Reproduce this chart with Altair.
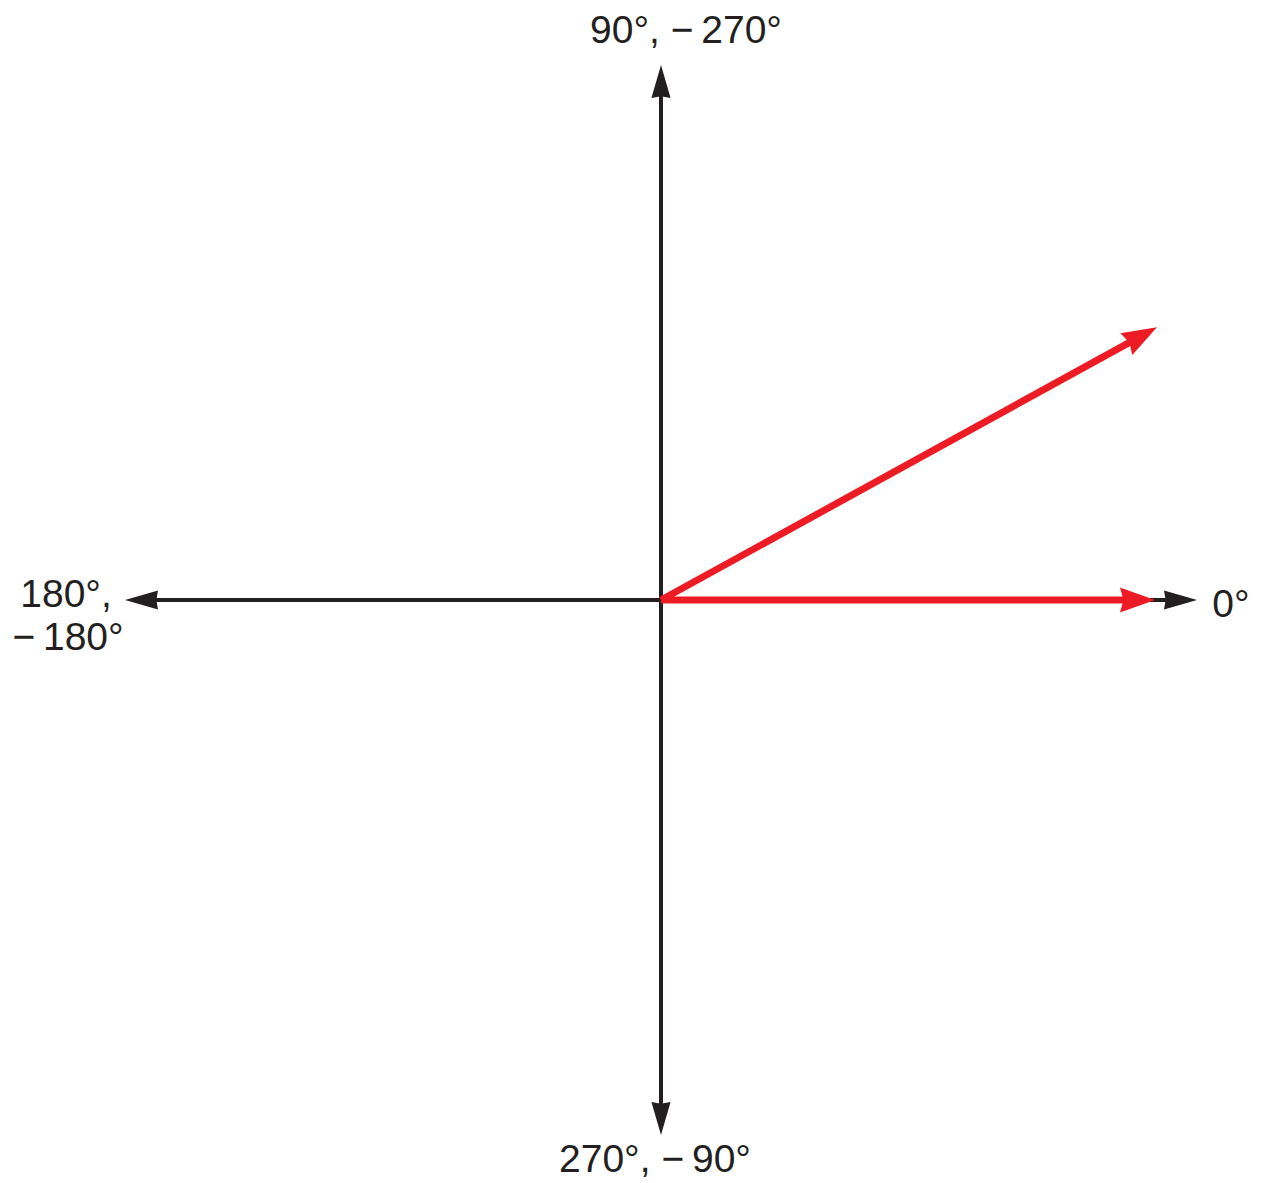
import math
import altair as alt
import pandas as pd

# ---- data (units: 1 unit ~ 100 px, origin at the axes crossing) ----
axis_end_x = [5.36, -5.36, 0.0, 0.0]
axis_end_y = [0.0, 0.0, 5.35, -5.35]
axis_head_angle = [90, 270, 0, 180]

vector_magnitude = [4.94, 5.66]
vector_angle_deg = [0.0, 28.8]

label_text = ["0°", "90°, −\u2009270°", "180°,", "−\u2009180°", "270°, −\u200990°"]
label_x = [5.70, 0.25, -5.95, -5.93, -0.06]
label_y = [-0.17, 5.57, -0.07, -0.50, -5.72]

BLACK = "#231f20"
RED = "#ed1c24"

# ---- tables ----
axes_df = pd.DataFrame({
    "x0": [0.0] * 4, "y0": [0.0] * 4,
    "tx": axis_end_x, "ty": axis_end_y,
    "ang": axis_head_angle,
})
axes_df["x1"] = [x * (1 - 0.15 / 5.36) for x in axis_end_x]
axes_df["y1"] = [y * (1 - 0.15 / 5.35) for y in axis_end_y]

vx = [m * math.cos(math.radians(a)) for m, a in zip(vector_magnitude, vector_angle_deg)]
vy = [m * math.sin(math.radians(a)) for m, a in zip(vector_magnitude, vector_angle_deg)]
vec_df = pd.DataFrame({
    "x0": [0.0, 0.0], "y0": [0.0, 0.0],
    "tx": vx, "ty": vy,
    "x1": [(m - 0.25) * math.cos(math.radians(a)) for m, a in zip(vector_magnitude, vector_angle_deg)],
    "y1": [(m - 0.25) * math.sin(math.radians(a)) for m, a in zip(vector_magnitude, vector_angle_deg)],
    "ang": [90 - a for a in vector_angle_deg],
})

lab_df = pd.DataFrame({"t": label_text, "x": label_x, "y": label_y})

W, H = 1250, 1175
xs = alt.Scale(domain=[-6.53, 5.97], nice=False, zero=False)
ys = alt.Scale(domain=[-5.83, 5.92], nice=False, zero=False)

BLACK_HEAD = "M0,0 L-0.58,2 L0,1.9 L0.58,2 Z"
RED_HEAD = "M0,0 L-0.71,2 L0,1.8 L0.71,2 Z"

axis_lines = alt.Chart(axes_df).mark_rule(color=BLACK, strokeWidth=4).encode(
    x=alt.X("x0:Q", scale=xs, axis=None),
    y=alt.Y("y0:Q", scale=ys, axis=None),
    x2="x1:Q", y2="y1:Q",
)
axis_heads = alt.Chart(axes_df).mark_point(
    shape=BLACK_HEAD, filled=True, color=BLACK, size=1089, opacity=1, strokeWidth=0
).encode(
    x=alt.X("tx:Q", scale=xs, axis=None),
    y=alt.Y("ty:Q", scale=ys, axis=None),
    angle=alt.Angle("ang:Q", scale=None),
)
vec_lines = alt.Chart(vec_df).mark_rule(color=RED, strokeWidth=7).encode(
    x=alt.X("x0:Q", scale=xs, axis=None),
    y=alt.Y("y0:Q", scale=ys, axis=None),
    x2="x1:Q", y2="y1:Q",
)
vec_heads = alt.Chart(vec_df).mark_point(
    shape=RED_HEAD, filled=True, color=RED, size=1225, opacity=1, strokeWidth=0
).encode(
    x=alt.X("tx:Q", scale=xs, axis=None),
    y=alt.Y("ty:Q", scale=ys, axis=None),
    angle=alt.Angle("ang:Q", scale=None),
)
labels = alt.Chart(lab_df).mark_text(
    font="Liberation Sans", fontSize=39, color=BLACK, align="center", baseline="alphabetic"
).encode(
    x=alt.X("x:Q", scale=xs, axis=None),
    y=alt.Y("y:Q", scale=ys, axis=None),
    text="t:N",
)

chart = alt.layer(axis_lines, axis_heads, vec_lines, vec_heads, labels).properties(
    width=W, height=H, autosize="none", padding=0
).configure_view(stroke=None)

chart.save("out.html", embed_options={"renderer": "svg", "actions": False})
